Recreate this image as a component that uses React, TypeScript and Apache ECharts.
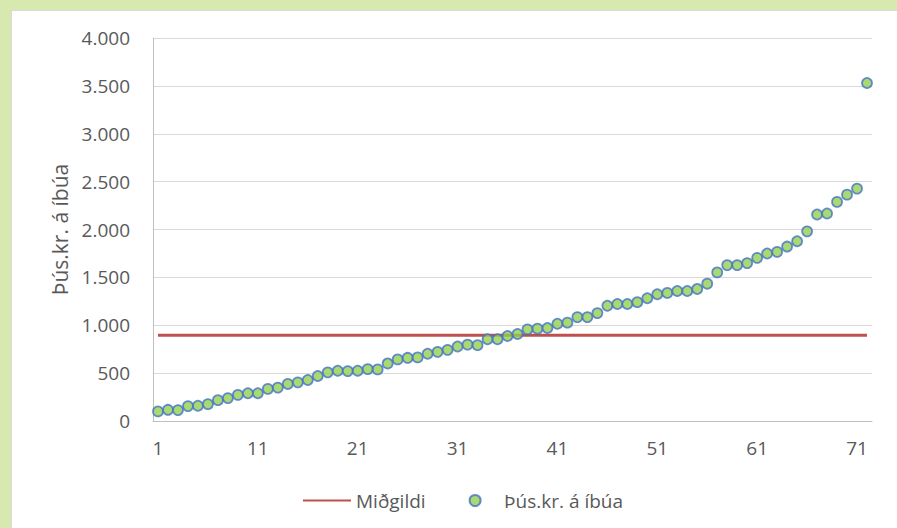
import React, { useEffect, useRef } from "react";
import * as echarts from "echarts";

const categories: string[] = Array.from({ length: 72 }, (_, i) => String(i + 1));

const perResident: number[] = [
  100, 117, 114, 156, 159, 176, 218, 239, 273, 290,
  290, 335, 349, 387, 404, 428, 470, 508, 525, 521,
  525, 542, 539, 601, 643, 660, 664, 702, 722, 743,
  778, 798, 792, 854, 854, 888, 909, 957, 964, 971,
  1016, 1027, 1085, 1085, 1127, 1204, 1222, 1222, 1241, 1282,
  1324, 1338, 1358, 1358, 1379, 1434, 1552, 1628, 1628, 1649,
  1704, 1749, 1766, 1822, 1877, 1981, 2157, 2167, 2288, 2364,
  2427, 3530,
];

const medianValue = 895;
const medianSeries: number[] = categories.map(() => medianValue);

const seriesNames = ["Miðgildi", "Þús.kr. á íbúa"];
const yAxisTitle = "Þús.kr. á íbúa";

const FONT = "'Open Sans', sans-serif";
const TEXT = "#595959";

function fmt(v: number): string {
  return String(Math.round(v)).replace(/\B(?=(\d{3})+(?!\d))/g, ".");
}

export default function App() {
  const ref = useRef<HTMLDivElement>(null);
  useEffect(() => {
    if (!ref.current) return;
    const chart = echarts.init(ref.current, null, { renderer: "svg" });
    chart.setOption({
      animation: false,
      backgroundColor: "#D8E9B0",
      textStyle: { fontFamily: FONT },
      graphic: [
        {
          type: "rect",
          z: -10,
          shape: { x: 11.5, y: 10.5, width: 900, height: 530 },
          style: { fill: "#ffffff", stroke: "#d9d9d9", lineWidth: 1 },
        },
      ],
      grid: { left: 153, right: 25, top: 38, bottom: 107, containLabel: false },
      legend: {
        left: 297,
        top: 486,
        itemWidth: 48,
        itemHeight: 11,
        itemGap: 43,
        data: [
          { name: seriesNames[0], itemStyle: { opacity: 0 } },
          { name: seriesNames[1] },
        ],
        textStyle: { color: TEXT, fontSize: 19, fontFamily: FONT },
      },
      xAxis: {
        type: "category",
        data: categories,
        boundaryGap: true,
        axisLine: { show: true, lineStyle: { color: "#bfbfbf", width: 1 } },
        axisTick: { show: false },
        axisLabel: {
          interval: 9,
          margin: 17,
          color: TEXT,
          fontSize: 19,
          fontFamily: FONT,
        },
        splitLine: { show: false },
      },
      yAxis: {
        type: "value",
        min: 0,
        max: 4000,
        interval: 500,
        name: yAxisTitle,
        nameLocation: "middle",
        nameRotate: 90,
        nameGap: 79,
        nameTextStyle: { color: TEXT, fontSize: 21, fontFamily: FONT },
        axisLine: { show: true, lineStyle: { color: "#bfbfbf", width: 1 } },
        axisTick: { show: false },
        axisLabel: {
          margin: 23,
          color: TEXT,
          fontSize: 19,
          fontFamily: FONT,
          formatter: (v: number) => fmt(v),
        },
        splitLine: { show: true, lineStyle: { color: "#d9d9d9", width: 1 } },
      },
      series: [
        {
          name: seriesNames[0],
          type: "line",
          data: medianSeries,
          symbol: "none",
          showSymbol: false,
          lineStyle: { color: "#C0504D", width: 3 },
          itemStyle: { color: "#C0504D" },
          z: 2,
        },
        {
          name: seriesNames[1],
          type: "scatter",
          data: perResident,
          symbol: "circle",
          symbolSize: 10,
          itemStyle: { color: "#92D050", borderColor: "#4472C4", borderWidth: 1.75 },
          z: 3,
        },
      ],
    });
    return () => chart.dispose();
  }, []);
  return (
    <div
      ref={ref}
      style={{ position: "fixed", left: 0, top: 0, width: 897, height: 528 }}
    />
  );
}
